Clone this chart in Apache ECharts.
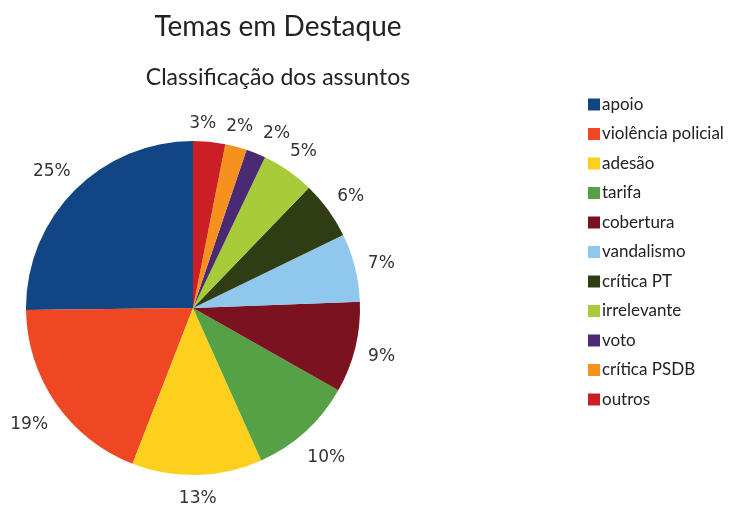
<!DOCTYPE html>
<html>
<head>
<meta charset="utf-8">
<script src="https://cdn.jsdelivr.net/npm/echarts@6/dist/echarts.min.js"></script>
<style>
  html, body { margin: 0; padding: 0; background: #fff; }
  #main { width: 739px; height: 505px; }
</style>
</head>
<body>
<div id="main"></div>
<script>
var categories = ['apoio', 'violência policial', 'adesão', 'tarifa', 'cobertura', 'vandalismo',
                  'crítica PT', 'irrelevante', 'voto', 'crítica PSDB', 'outros'];
// shares in % (labels show them rounded)
var percents = [25.2, 18.9, 12.6, 10.1, 8.8, 6.6, 5.6, 5.1, 1.9, 2.1, 3.1];
var colors = ['#124584', '#ef4723', '#fcd01d', '#56a045', '#7b1220', '#90c7ec',
              '#2f3d14', '#a8cb3a', '#4a2a72', '#f6911e', '#cb1f26'];

var cx = 193, cy = 308, R = 167, gap = 12;
var labelFont = 17;

var data = [];
for (var i = 0; i < categories.length; i++) {
    data.push({ name: categories[i], value: percents[i], itemStyle: { color: colors[i] } });
}

function labelText(v) { return Math.round(v) + '%'; }

// label centres: on each slice's mid-angle ray, just outside the pie,
// then small neighbours pushed apart sideways
var labelPos = (function () {
    var ctx = document.createElement('canvas').getContext('2d');
    ctx.font = labelFont + 'px "DejaVu Sans"';
    var total = 0;
    percents.forEach(function (v) { total += v; });
    var pos = [], before = 0;
    percents.forEach(function (v) {
        var mid = (before + v / 2) / total * 360;
        before += v;
        var phi = (90 + mid) * Math.PI / 180;
        var dx = Math.cos(phi), dy = -Math.sin(phi);
        var w = ctx.measureText(labelText(v)).width, h = labelFont;
        var d = R + gap + Math.abs(dx) * w / 2 + Math.abs(dy) * h / 2;
        pos.push({ x: cx + dx * d, y: cy + dy * d + 3, w: w, h: h });
    });
    for (var it = 0; it < 60; it++) {
        for (var a = 0; a < pos.length; a++) {
            for (var b = a + 1; b < pos.length; b++) {
                var p = pos[a], q = pos[b];
                if (Math.abs(p.y - q.y) >= 14) continue;
                var need = (p.w + q.w) / 2 + 10;
                var dist = Math.abs(p.x - q.x);
                if (dist >= need) continue;
                var push = (need - dist) / 2, s = p.x < q.x ? -1 : 1;
                p.x += s * push;
                q.x -= s * push;
            }
        }
    }
    return pos;
})();

var option = {
    animation: false,
    title: [
        {
            text: 'Temas em Destaque',
            left: 273, top: 8, textAlign: 'center',
            textStyle: { fontFamily: 'Lato', fontWeight: 'normal', fontSize: 28, color: '#222' }
        },
        {
            text: 'Classificação dos assuntos',
            left: 273, top: 61, textAlign: 'center',
            textStyle: { fontFamily: 'Lato', fontWeight: 'normal', fontSize: 23, color: '#222' }
        }
    ],
    legend: {
        orient: 'vertical',
        left: 583, top: 91,
        itemWidth: 12, itemHeight: 12, itemGap: 12.5,
        icon: 'rect',
        textStyle: { fontFamily: 'Lato', fontSize: 17, color: '#222', padding: [0, 0, 0, -3] },
        data: categories
    },
    series: [{
        type: 'pie',
        center: [cx, cy],
        radius: R,
        startAngle: 90,
        clockwise: false,
        avoidLabelOverlap: false,
        label: {
            show: true,
            position: 'outside',
            formatter: function (p) { return labelText(p.value); },
            fontFamily: 'DejaVu Sans',
            fontSize: labelFont,
            color: '#333',
            overflow: 'none'
        },
        labelLine: { show: false },
        labelLayout: function (params) {
            var p = labelPos[params.dataIndex];
            return { x: p.x, y: p.y, align: 'center', verticalAlign: 'middle' };
        },
        itemStyle: { borderWidth: 0 },
        emphasis: { disabled: true },
        data: data
    }]
};

var chart = echarts.init(document.getElementById('main'));
chart.setOption(option);
</script>
</body>
</html>
